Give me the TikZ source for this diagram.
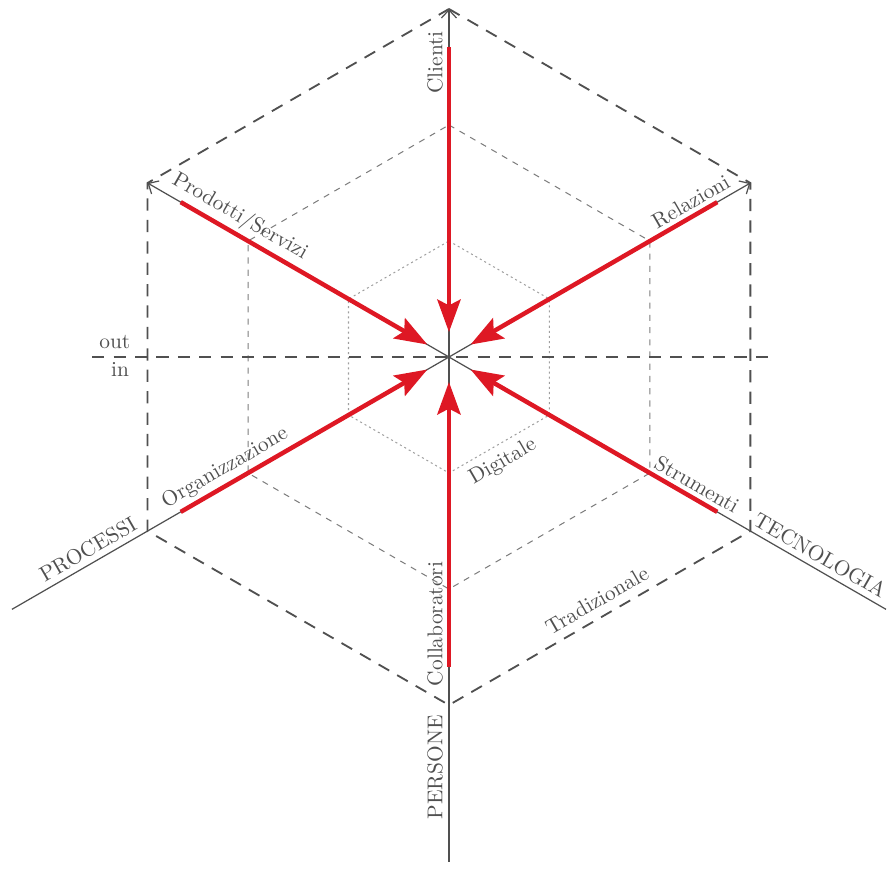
\documentclass[tikz,border=0pt]{standalone}
\usetikzlibrary{arrows.meta}
\definecolor{pen}{RGB}{80,80,80}
\definecolor{marker}{RGB}{222,24,36}
\tikzset{
  axis/.style    ={line width=0.6pt, pen},
  axistip/.style ={-{Straight Barb[length=1.4mm, width=2.6mm]}, line width=0.6pt, pen},
  ring/.style    ={line width=0.9pt, pen, dash pattern=on 6pt off 4.5pt},           % outer hexagon
  midring/.style ={line width=0.5pt, pen!75, dash pattern=on 3pt off 3pt},          % middle hexagon
  inring/.style  ={line width=0.5pt, pen!55, dash pattern=on 1pt off 1.5pt},        % inner hexagon
  flow/.style    ={-{Stealth[length=5.6mm, width=4mm, inset=1mm]}, line width=2.2pt, marker},
  lbl/.style     ={font=\fontsize{10.5pt}{12pt}\selectfont, text=pen, inner sep=1.5pt},
  onaxis/.style  ={lbl, anchor=south, inner ysep=2.8pt},
}

\begin{document}
\begin{tikzpicture}
  \useasboundingbox (-7.74,-8.86) rectangle (7.655,6.155);
  \coordinate (O) at (0,0);
  % hexagons
  \draw[ring]    (90:6) -- (30:6) -- (-30:6) -- (-90:6) -- (-150:6) -- (150:6) -- cycle;
  \draw[midring] (90:4) -- (30:4) -- (-30:4) -- (-90:4) -- (-150:4) -- (150:4) -- cycle;
  \draw[inring]  (90:2) -- (30:2) -- (-30:2) -- (-90:2) -- (-150:2) -- (150:2) -- cycle;
  % out / in
  \coordinate (hl) at (-6.15,0);
  \coordinate (hr) at (5.62,0);
  \draw[ring] (hl) -- (hr);
  \node[lbl] (out) at (-5.76,0.25) {out};
  \node[lbl] (in)  at (-5.67,-0.22) {in};
  % axes
  \coordinate (top) at (90:6);
  \coordinate (ur)  at (30:6);
  \coordinate (ul)  at (150:6);
  \coordinate (bot) at (-90:8.7);
  \coordinate (lr)  at (-30:8.7);
  \coordinate (ll)  at (-150:8.7);
  \draw[axistip] (O) -- (top);
  \draw[axistip] (O) -- (ur);
  \draw[axistip] (O) -- (ul);
  \draw[axis] (O) -- (bot);
  \draw[axis] (O) -- (lr);
  \draw[axis] (O) -- (ll);
  % red arrows
  \coordinate (cli) at (90:5.34);   \coordinate (cli-e) at (90:0.43);
  \coordinate (rel) at (30:5.34);   \coordinate (rel-e) at (30:0.43);
  \coordinate (str) at (-30:5.34);  \coordinate (str-e) at (-30:0.43);
  \coordinate (col) at (-90:5.34);  \coordinate (col-e) at (-90:0.43);
  \coordinate (org) at (-150:5.34); \coordinate (org-e) at (-150:0.43);
  \coordinate (pro) at (150:5.34);  \coordinate (pro-e) at (150:0.43);
  \draw[flow] (cli) -- (cli-e);
  \draw[flow] (rel) -- (rel-e);
  \draw[flow] (str) -- (str-e);
  \draw[flow] (col) -- (col-e);
  \draw[flow] (org) -- (org-e);
  \draw[flow] (pro) -- (pro-e);
  % labels
  \node[onaxis, rotate=90]  (clienti)  at (90:5.08)   {Clienti};
  \node[onaxis, rotate=-30] (prodotti) at (150:4.33)  {Prodotti/Servizi};
  \node[onaxis, rotate=30]  (relaz)    at (30:4.95)   {Relazioni};
  \node[onaxis, rotate=30]  (organ)    at (-150:4.30) {Organizzazione};
  \node[onaxis, rotate=-30] (strum)    at (-30:4.80)  {Strumenti};
  \node[onaxis, rotate=90]  (collab)   at (-90:4.60)  {Collaboratori};
  \node[onaxis, rotate=30]  (processi) at (-150:7.05) {PROCESSI};
  \node[onaxis, rotate=-30] (tecno)    at (-30:7.25)  {TECNOLOGIA};
  \node[onaxis, rotate=90]  (persone)  at (-90:7.07)  {PERSONE};
  \node[lbl, rotate=30]     (digit)    at (0.93,-1.81)  {Digitale};
  \node[lbl, rotate=30]     (tradiz)   at (2.55,-4.19)  {Tradizionale};
\end{tikzpicture}
\end{document}
